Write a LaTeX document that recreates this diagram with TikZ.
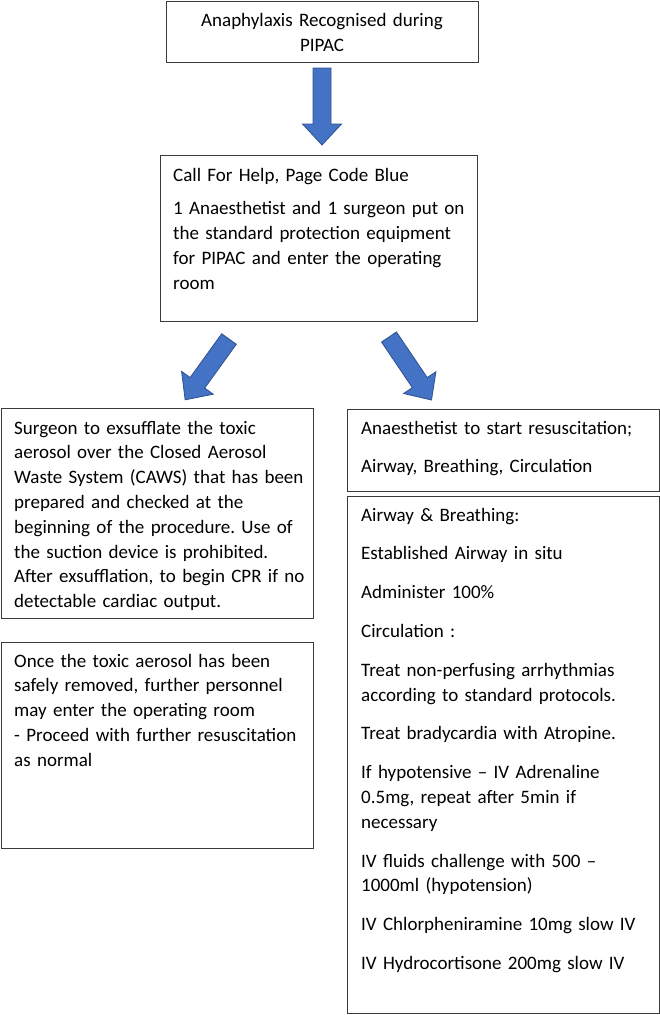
\documentclass[tikz,border=0pt]{standalone}
\usepackage{fontspec}
\setmainfont{Carlito}
\usetikzlibrary{calc}
\frenchspacing
\definecolor{arrowblue}{HTML}{4472C4}
\definecolor{arrowedge}{HTML}{2F528F}
\definecolor{boxedge}{HTML}{3A3A3A}
\newcommand\myblockarrow[3]{%
  \draw[blockarrow, shift={(#1)}, rotate=#2]
    (0,-9) -- ({#3-21},-9) -- ({#3-21},-19.5) -- (#3,0) -- ({#3-21},19.5) -- ({#3-21},9) -- (0,9) -- cycle;}
\begin{document}
\begin{tikzpicture}[x=1pt,y=-1pt,
  box/.style={draw=boxedge, line width=1.2pt, inner sep=0pt, anchor=north west},
  txt/.style={inner sep=0pt, anchor=base west, align=left, text width=305pt,
    font=\fontsize{19}{24.8}\selectfont\frenchspacing},
  ctxt/.style={inner sep=0pt, anchor=base, align=center, text width=305pt,
    font=\fontsize{19}{25}\selectfont\frenchspacing},
  blockarrow/.style={fill=arrowblue, draw=arrowedge, line width=0.8pt, line join=miter}]
\useasboundingbox (0,0) rectangle (660,1015);

% boxes
\node[box, minimum width=312pt, minimum height=61.4pt] (b1) at (166,0.6) {};
\node[box, minimum width=317pt, minimum height=166pt] (b2) at (160,155) {};
\node[box, minimum width=312.4pt, minimum height=210pt] (b3) at (0.6,408) {};
\node[box, minimum width=312.4pt, minimum height=206pt] (b4) at (0.6,642) {};
\node[box, minimum width=312pt, minimum height=82pt] (b5) at (347,409) {};
\node[box, minimum width=312pt, minimum height=517pt] (b6) at (347,496) {};

% texts
\node[ctxt] (t1) at (322,26) {Anaphylaxis Recognised during\\PIPAC};
\node[txt] (t2) at (173,181) {Call For Help, Page Code Blue\\[9pt]
1 Anaesthetist and 1 surgeon put on\\the standard protection equipment\\for PIPAC and enter the operating\\room};
\node[txt] (t3) at (14,434) {Surgeon to exsufflate the toxic\\aerosol over the Closed Aerosol\\Waste System (CAWS) that has been\\prepared and checked at the\\beginning of the procedure. Use of\\the suction device is prohibited.\\After exsufflation, to begin CPR if no\\detectable cardiac output.};
\node[txt] (t4) at (14,667) {Once the toxic aerosol has been\\safely removed, further personnel\\may enter the operating room\\- Proceed with further resuscitation\\as normal};
\node[txt] (t5) at (361,434) {Anaesthetist to start resuscitation;\\[14pt]Airway, Breathing, Circulation};
\node[txt] (t6) at (361,521) {Airway \& Breathing:\\[14pt]
Established Airway in situ\\[14pt]
Administer 100\%\\[14pt]
Circulation :\\[14pt]
Treat non-perfusing arrhythmias\\according to standard protocols.\\[14pt]
Treat bradycardia with Atropine.\\[14pt]
If hypotensive – IV Adrenaline\\0.5mg, repeat after 5min if\\necessary\\[14pt]
IV fluids challenge with 500 –\\1000ml (hypotension)\\[14pt]
IV Chlorpheniramine 10mg slow IV\\[14pt]
IV Hydrocortisone 200mg slow IV};

% block arrows
\coordinate (a1) at (322,68);
\coordinate (a2) at (229,339);
\coordinate (a3) at (389,337);
\myblockarrow{a1}{-90}{77}
\myblockarrow{a2}{234.2}{75}
\myblockarrow{a3}{-56}{76}
\end{tikzpicture}
\end{document}
